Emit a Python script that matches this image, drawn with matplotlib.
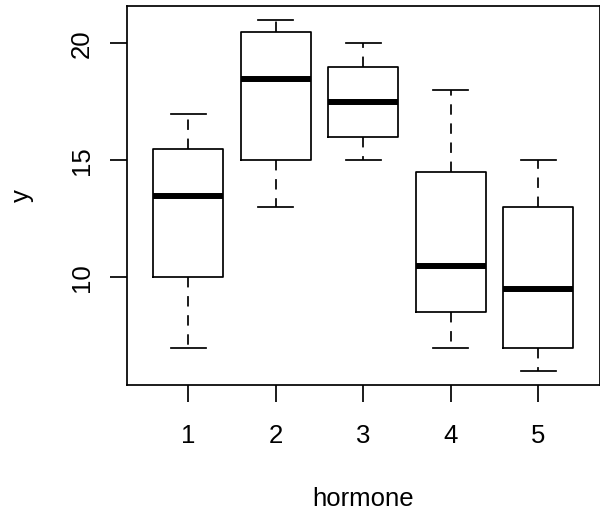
import matplotlib
matplotlib.use('Agg')
import matplotlib.pyplot as plt

# ── Data: five-number summaries per hormone group ──────────────────────────────
groups   = [1, 2, 3, 4, 5]
whislo   = [7, 13, 15, 7, 6]
q1       = [10, 15, 16, 8.5, 7]
median   = [13.5, 18.5, 17.5, 10.5, 9.5]
q3       = [15.5, 20.5, 19, 14.5, 13]
whishi   = [17, 21, 20, 18, 15]
y_ticks  = [10, 15, 20]

plt.rcParams['font.family'] = ['Liberation Sans', 'DejaVu Sans']

stats = [
    dict(label=str(g), whislo=lo, q1=a, med=m, q3=b, whishi=hi)
    for g, lo, a, m, b, hi in zip(groups, whislo, q1, median, q3, whishi)
]

W, H = 600, 519
fig = plt.figure(figsize=(W / 100, H / 100), dpi=100)
ax = fig.add_axes([127 / W, (H - 385) / H, (599.5 - 127) / W, (385 - 6) / H])

lw = 1.25
ax.bxp(
    stats,
    positions=groups,
    widths=0.8,
    capwidths=0.4,
    showfliers=False,
    boxprops=dict(color='black', linewidth=lw),
    medianprops=dict(color='black', linewidth=4.3, solid_capstyle='butt'),
    whiskerprops=dict(color='black', linewidth=lw, linestyle=(0, (6, 5))),
    capprops=dict(color='black', linewidth=lw),
)

ax.set_xlim(0.3, 5.7)
ax.set_ylim(5.4, 21.6)
ax.set_xticks(groups)
ax.set_xticklabels([str(g) for g in groups])
ax.set_yticks(y_ticks)
ax.set_yticklabels([str(t) for t in y_ticks], rotation=90, va='center')

for sp in ax.spines.values():
    sp.set_linewidth(lw)
    sp.set_color('black')

fs = 18.5
ax.tick_params(axis='both', length=12, width=lw, labelsize=fs, color='black')
ax.tick_params(axis='x', pad=16)
ax.tick_params(axis='y', pad=12)

ax.set_xlabel('hormone', fontsize=fs, labelpad=28)
ax.set_ylabel('y', fontsize=fs, labelpad=26)

fig.savefig('out.png', dpi=100)
